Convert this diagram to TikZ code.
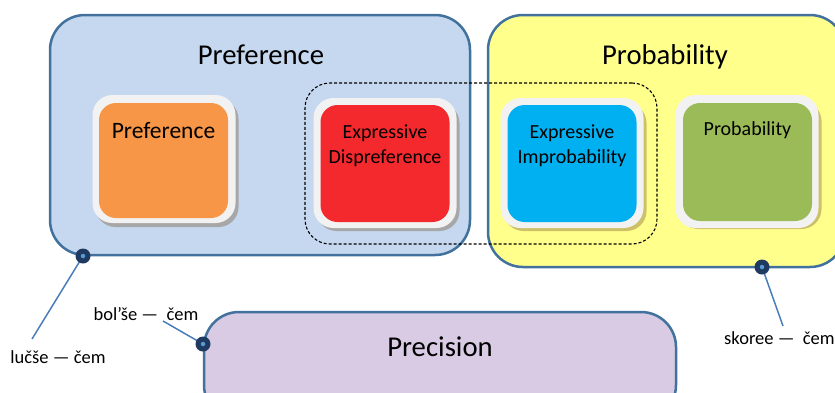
\documentclass[tikz,border=0pt]{standalone}
\usepackage{fontspec}
\setmainfont{Carlito}
\usetikzlibrary{positioning}
\definecolor{bordblue}{HTML}{41719C}
\definecolor{prefbg}{HTML}{C5D8EF}
\definecolor{probbg}{HTML}{FFFF8C}
\definecolor{precbg}{HTML}{D8CBE3}
\definecolor{dotnavy}{HTML}{1F3A60}
\definecolor{dotlight}{HTML}{5B9BD5}
\definecolor{linkblue}{HTML}{4A7EBB}
\definecolor{cOrange}{HTML}{F79646}
\definecolor{cRed}{HTML}{F4292D}
\definecolor{cBlue}{HTML}{00B0F0}
\definecolor{cGreen}{HTML}{9BBB59}
\definecolor{frame}{HTML}{F2F2F2}
\tikzset{
  bigbox/.style={draw=bordblue, line width=2.5pt, rounded corners=35pt, inner sep=0pt},
  titlefont/.style={font=\fontsize{28.7}{34}\selectfont},
  framebox/.style={fill=frame, rounded corners=20pt, inner sep=0pt, minimum width=143pt, minimum height=128pt},
  shadowbox/.style={fill=brown!60!black, opacity=0.35, rounded corners=20pt, inner sep=0pt, minimum width=143pt, minimum height=128pt},
  colbox/.style={rounded corners=17pt, inner sep=0pt, minimum width=129pt, minimum height=116pt},
  intext/.style={font=\fontsize{20}{25}\selectfont, align=center},
  dotmark/.style={circle, fill=dotnavy, minimum size=15pt, inner sep=0pt},
  dotcore/.style={circle, fill=dotlight, minimum size=4.5pt, inner sep=0pt},
  link/.style={draw=linkblue, line width=1.5pt},
  lbl/.style={font=\fontsize{18.5}{22}\selectfont, inner sep=0pt}
}
\begin{document}
\begin{tikzpicture}[x=1pt,y=-1pt]
\useasboundingbox (0,0) rectangle (835,392);
\clip (0,0) rectangle (835,392);
% big boxes
\node[bigbox, fill=prefbg, minimum width=420pt, minimum height=240pt] (prefbox) at (260,135) {};
\node[bigbox, fill=probbg, minimum width=357pt, minimum height=252pt] (probbox) at (666.5,141) {};
\node[bigbox, fill=precbg, minimum width=472pt, minimum height=108pt] (precbox) at (440,366) {};
% titles
\node[titlefont] (preftitle) at (261,55) {Preference};
\node[titlefont] (probtitle) at (665,57) {Probability};
\node[titlefont] (prectitle) at (440,347) {Precision};
% dashed group
\node[draw=black, dash pattern=on 3pt off 2pt, line width=1.1pt, rounded corners=25pt, minimum width=352pt, minimum height=161pt, inner sep=0pt] (group) at (481,163.5) {};
% inner boxes: shadows
\node[shadowbox] (sh1) at (167,163) {};
\node[shadowbox] (sh2) at (388,167) {};
\node[shadowbox] (sh3) at (575,167) {};
\node[shadowbox] (sh4) at (750,165) {};
% frames
\node[framebox, minimum height=128pt] (fr1) at (164,159) {};
\node[framebox, minimum height=130pt] (fr2) at (385,163) {};
\node[framebox, minimum height=130pt] (fr3) at (572,163) {};
\node[framebox, minimum height=133pt] (fr4) at (747,161.5) {};
% coloured boxes
\node[colbox, fill=cOrange, minimum height=115pt] (orange) at (163.5,160.5) {};
\node[colbox, fill=cRed, minimum height=117pt] (red) at (385,163.5) {};
\node[colbox, fill=cBlue, minimum height=117pt] (blue) at (572,163.5) {};
\node[colbox, fill=cGreen, minimum height=118pt] (green) at (747.5,162) {};
% inner texts
\node[font=\fontsize{23.5}{28}\selectfont] (t1) at (163.5,131) {Preference};
\node[intext] (t2) at (385,145.5) {Expressive\\Dispreference};
\node[intext] (t3) at (572,145.5) {Expressive\\Improbability};
\node[intext] (t4) at (747.5,130) {Probability};
% connection points and labels
\node[lbl] (l1) at (58,357) {lučše — čem};
\node[lbl] (l2) at (146,314) {bol’še —\ \ čem};
\node[lbl, anchor=west] (l3) at (724,338) {skoree —\ \ čem};
\coordinate (d1) at (83,256);
\coordinate (d2) at (203,344);
\coordinate (d3) at (762,267);
\coordinate (e1) at (32,339);
\coordinate (e2) at (163,321);
\coordinate (e3) at (783,326);
\draw[link] (d1) -- (e1);
\draw[link] (d2) -- (e2);
\draw[link] (d3) -- (e3);
\node[dotmark] (m1) at (d1) {};
\node[dotcore] at (m1) {};
\node[dotmark] (m2) at (d2) {};
\node[dotcore] at (m2) {};
\node[dotmark] (m3) at (d3) {};
\node[dotcore] at (m3) {};
\end{tikzpicture}
\end{document}
